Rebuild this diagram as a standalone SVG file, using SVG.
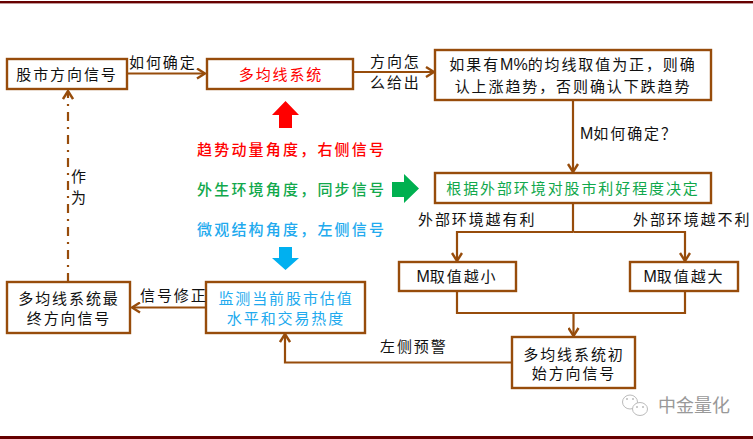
<svg xmlns="http://www.w3.org/2000/svg" width="753" height="439" viewBox="0 0 753 439">
<style>
.box{fill:#fff;stroke:#974c0b;stroke-width:2.4}
.c{fill:none;stroke:#974c0b;stroke-width:2.2}
.t{font-family:"Noto Sans CJK SC","Liberation Sans",sans-serif;font-size:15px;letter-spacing:1.9px;fill:#111;text-anchor:middle}
.l{text-anchor:start}
.m{letter-spacing:0;font-family:"Liberation Sans",sans-serif;font-size:16px}
.red{fill:#ff0000}.green{fill:#11a84c}.blue{fill:#22aaee}
.s{font-weight:500;letter-spacing:2.2px}
</style>
<defs>
<marker id="a" viewBox="0 0 10 12" markerUnits="userSpaceOnUse" markerWidth="10" markerHeight="12" refX="9" refY="6" orient="auto"><path d="M1 1L9 6L1 11" fill="none" stroke="#974c0b" stroke-width="2.4"/></marker>
</defs>
<rect id="top-rule" x="0" y="1" width="753" height="2.4" fill="#660000"/>
<rect id="bottom-rule" x="0" y="436" width="753" height="3" fill="#660000"/>
<g id="connectors">
<path class="c" d="M127 73.500H205" marker-end="url(#a)"/>
<path class="c" d="M353 72H434" marker-end="url(#a)"/>
<path class="c" d="M573 100V172" marker-end="url(#a)"/>
<path class="c" d="M573 203V232"/>
<path class="c" d="M573.500 232H457V261" marker-end="url(#a)"/>
<path class="c" d="M573.500 232H685V261" marker-end="url(#a)"/>
<path class="c" d="M457 291V313H685V291"/>
<path class="c" d="M573.500 313V336" marker-end="url(#a)"/>
<path class="c" d="M512 362.500H285V334" marker-end="url(#a)"/>
<path class="c" d="M206 307.500H132" marker-end="url(#a)"/>
<path class="c" d="M68 282V91" stroke-dasharray="9 6 2 6" stroke-width="2.4" marker-end="url(#a)"/>
</g>
<g id="stock-signal"><rect class="box" x="7" y="59" width="120" height="30"/><text class="t" x="67" y="80">股市方向信号</text></g>
<g id="ma-system"><rect class="box" x="207" y="59" width="146" height="30"/><text class="t red" x="281" y="80">多均线系统</text></g>
<g id="rule"><rect class="box" x="435" y="50" width="276" height="50"/><text class="t" x="573" y="70">如果有<tspan class="m">M%</tspan>的均线取值为正，则确</text><text class="t" x="573" y="92">认上涨趋势，否则确认下跌趋势</text></g>
<g id="env"><rect class="box" x="435" y="173" width="276" height="30"/><text class="t green" x="573" y="194">根据外部环境对股市利好程度决定</text></g>
<g id="m-small"><rect class="box" x="399" y="262" width="117" height="29"/><text class="t" x="457" y="282"><tspan class="m">M</tspan>取值越小</text></g>
<g id="m-large"><rect class="box" x="630" y="262" width="108" height="29"/><text class="t" x="684" y="282"><tspan class="m">M</tspan>取值越大</text></g>
<g id="initial"><rect class="box" x="512" y="337" width="123" height="51"/><text class="t" x="574" y="360">多均线系统初</text><text class="t" x="574" y="379">始方向信号</text></g>
<g id="monitor"><rect class="box" x="206" y="282" width="159" height="51"/><text class="t blue" x="286" y="304">监测当前股市估值</text><text class="t blue" x="286" y="324">水平和交易热度</text></g>
<g id="final"><rect class="box" x="7" y="282" width="123" height="51"/><text class="t" x="69" y="304">多均线系统最</text><text class="t" x="69" y="324">终方向信号</text></g>
<g id="labels">
<text class="t l" x="129" y="68">如何确定</text>
<text class="t l" x="370" y="67">方向怎</text>
<text class="t l" x="370" y="88">么给出</text>
<text class="t l" x="580" y="139"><tspan class="m">M</tspan>如何确定？</text>
<text class="t l" x="418" y="225">外部环境越有利</text>
<text class="t l" x="633" y="225">外部环境越不利</text>
<text class="t l" x="380" y="352">左侧预警</text>
<text class="t l" x="140" y="301">信号修正</text>
<text class="t l" x="71" y="182">作</text>
<text class="t l" x="71" y="203">为</text>
<text class="t l s red" x="197" y="155">趋势动量角度，右侧信号</text>
<text class="t l s green" x="197" y="195">外生环境角度，同步信号</text>
<text class="t l s blue" x="197" y="235">微观结构角度，左侧信号</text>
</g>
<path id="arrow-up" fill="#ff0000" d="M285.500 101L299 115H292V128H279V115H272Z"/>
<path id="arrow-right" fill="#00b050" d="M392 182H404V174L419 188.500L404 203V197H392Z"/>
<path id="arrow-down" fill="#00b0f0" d="M279 247H292V258H299L285.500 270L272 258H279Z"/>
<g id="watermark">
<g fill="#fff" stroke="#bbb" stroke-width="1"><ellipse cx="630" cy="402" rx="7.500" ry="7"/><ellipse cx="640" cy="409" rx="7.500" ry="6.500"/></g>
<g fill="#bbb"><circle cx="627" cy="399" r="1"/><circle cx="633" cy="399" r="1"/><circle cx="637" cy="407" r="1"/><circle cx="643" cy="407" r="1"/></g>
<text x="658" y="412" font-family="'Noto Sans CJK SC',sans-serif" font-size="18" fill="#999">中金量化</text>
</g>
</svg>
